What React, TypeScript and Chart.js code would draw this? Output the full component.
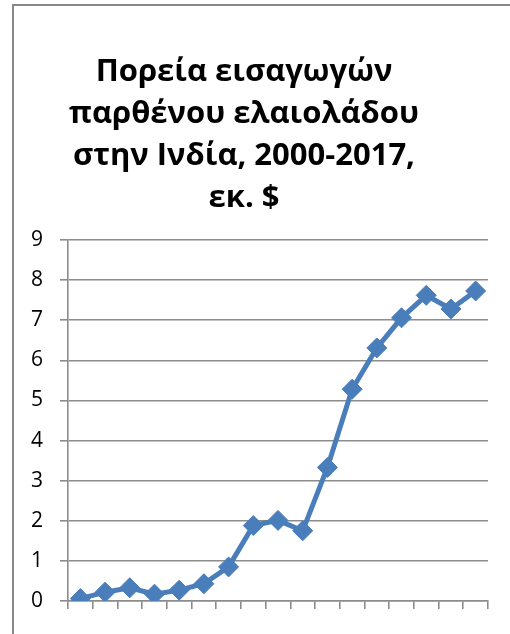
import React, { useEffect, useRef } from "react";
import { Chart, registerables } from "chart.js";

Chart.register(...registerables);

const titleLines = ["Πορεία εισαγωγών", "παρθένου ελαιολάδου", "στην Ινδία, 2000-2017,", "εκ. $"];
const years = ["2000", "2001", "2002", "2003", "2004", "2005", "2006", "2007", "2008", "2009", "2010", "2011", "2012", "2013", "2014", "2015", "2016"];
const imports = [0.06, 0.22, 0.33, 0.17, 0.27, 0.43, 0.85, 1.88, 2.01, 1.75, 3.33, 5.28, 6.31, 7.06, 7.62, 7.28, 7.73];

const FONT = "'Open Sans', 'Noto Sans', sans-serif";

const frame = {
  id: "frame",
  beforeDraw(chart: any) {
    const ctx = chart.ctx;
    ctx.save();
    ctx.fillStyle = "#ffffff";
    ctx.fillRect(0, 0, chart.width, chart.height);
    ctx.fillStyle = "#878787";
    ctx.fillRect(12, 4, 2, chart.height - 4);
    ctx.fillRect(12, 4, chart.width - 12, 2);
    ctx.restore();
  },
};

export default function App() {
  const ref = useRef<HTMLCanvasElement | null>(null);
  useEffect(() => {
    if (!ref.current) return;
    const chart = new Chart(ref.current, {
      type: "line",
      data: {
        labels: years,
        datasets: [
          {
            data: imports,
            borderColor: "#4a7ebb",
            backgroundColor: "#4a7ebb",
            borderWidth: 5,
            tension: 0,
            pointStyle: "rectRot",
            pointRadius: 10,
            pointBorderWidth: 1,
            pointBorderColor: "#4a7ebb",
            pointBackgroundColor: "#4a7ebb",
          },
        ],
      },
      options: {
        animation: false,
        responsive: false,
        layout: { padding: { left: 0, right: 22, top: 0, bottom: 25 } },
        plugins: {
          legend: { display: false },
          tooltip: { enabled: false },
          title: {
            display: true,
            text: titleLines,
            color: "#000000",
            font: { family: FONT, size: 31, weight: "bold", lineHeight: "42px" },
            padding: { top: 51, bottom: 21 },
          },
        },
        scales: {
          x: {
            offset: true,
            grid: {
              offset: true,
              drawOnChartArea: false,
              drawTicks: true,
              tickLength: 8,
              color: "#8c8c8c",
              lineWidth: 1.6,
            },
            border: { color: "#8c8c8c", width: 1.6 },
            ticks: { display: false },
          },
          y: {
            min: 0,
            max: 9,
            afterFit(scale: any) {
              scale.width = 68;
            },
            ticks: {
              stepSize: 1,
              padding: 17,
              color: "#000000",
              font: { family: FONT, size: 21 },
            },
            grid: { color: "#8c8c8c", lineWidth: 1.6, tickLength: 8 },
            border: { color: "#8c8c8c", width: 1.6 },
          },
        },
      },
      plugins: [frame],
    });
    return () => chart.destroy();
  }, []);
  return (
    <div style={{ position: "absolute", left: 0, top: 0, width: 510, height: 634 }}>
      <canvas ref={ref} width={510} height={634} style={{ display: "block" }} />
    </div>
  );
}
